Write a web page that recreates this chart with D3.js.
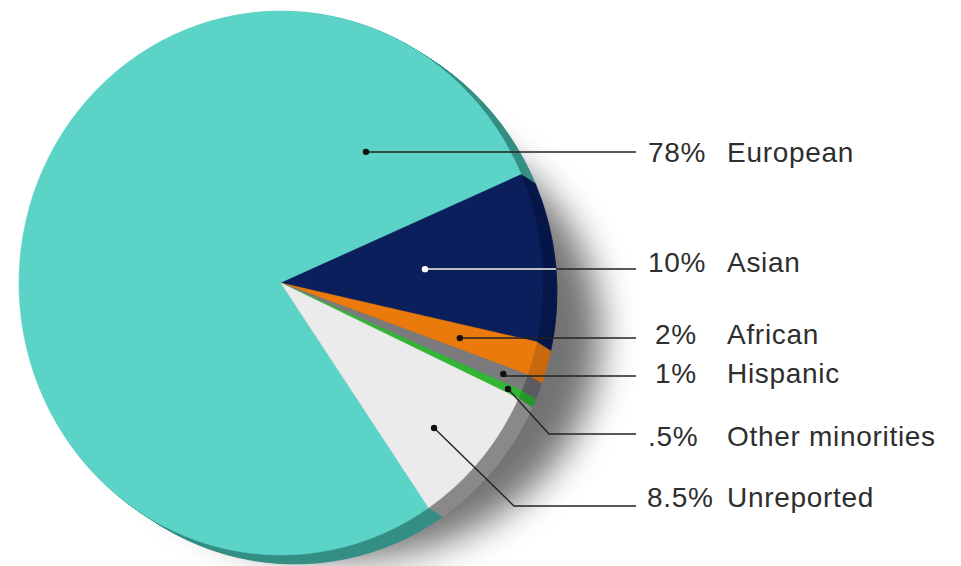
<!DOCTYPE html>
<html>
<head>
<meta charset="utf-8">
<script src="https://cdn.jsdelivr.net/npm/d3@7"></script>
<style>
  html, body { margin: 0; padding: 0; background: #ffffff; }
  svg { display: block; }
</style>
</head>
<body>
<svg id="chart" width="961" height="566"></svg>
<script>
// ---- data ----
const categories  = ["European", "Asian", "African", "Hispanic", "Other minorities", "Unreported"];
const shares      = [78, 10, 2, 1, 0.5, 8.5];
const shareLabels = ["78%", "10%", "2%", "1%", ".5%", "8.5%"];

// ---- styling ----
const faceColors = ["#5cd3c7", "#0b1f5c", "#e97a0b", "#7b7b7e", "#33b536", "#ebebeb"];
const sideColors = ["#348e85", "#07174a", "#c8690f", "#5d5d60", "#27982b", "#8a8a8a"];

// ---- callout layout (dot position inside slice, leader and label placement) ----
const dotFrac = [0.884, 0.506, 0.56, 0.5, 0.5, 0.565];   // fraction along slice angle
const dotRad  = [0.581, 0.552, 0.712, 0.912, 0.95, 0.791]; // fraction of radius
const lineY   = [152, 269, 338, 376, 434, 506];
const elbowX  = [null, null, null, null, 549, 514];
const lineEndX = 636;
const pctX    = [648, 648, 655, 655, 648, 647];
const nameX   = 727;
const baseY   = [162, 272, 344, 383, 446, 507];

// ---- disc geometry ----
const cx = 281, cy = 283, rx = 262, ry = 272;
const depthX = 14, depthY = 9, depthSteps = 14;
const R = 100;
const deg = Math.PI / 180;
const startAngle = 145.7 * deg;

const svg = d3.select("#chart");
const defs = svg.append("defs");

defs.append("filter")
  .attr("id", "softShadow")
  .attr("x", "-50%").attr("y", "-50%")
  .attr("width", "200%").attr("height", "200%")
  .append("feGaussianBlur").attr("stdDeviation", 18);

// soft cast shadow behind the disc
svg.append("ellipse")
  .attr("cx", cx + 64).attr("cy", cy + 52)
  .attr("rx", rx - 6).attr("ry", ry - 48)
  .attr("fill", "#000")
  .attr("opacity", 0.55)
  .attr("filter", "url(#softShadow)");

const pie = d3.pie()
  .value(d => d)
  .sort(null)
  .startAngle(startAngle)
  .endAngle(startAngle + 2 * Math.PI);

const arcs = pie(shares);
const arc = d3.arc().innerRadius(0).outerRadius(R);

const discTransform = k =>
  `translate(${cx + depthX * k / depthSteps},${cy + depthY * k / depthSteps}) scale(${rx / R},${ry / R})`;

// extruded rim: stacked copies from back to front
const rim = svg.append("g").attr("class", "rim");
for (let k = depthSteps; k >= 1; k--) {
  rim.append("g")
    .attr("transform", discTransform(k))
    .selectAll("path")
    .data(arcs)
    .join("path")
    .attr("d", arc)
    .attr("fill", (d, i) => sideColors[i])
    .attr("stroke", (d, i) => sideColors[i])
    .attr("stroke-width", 0.3);
}

// top face
svg.append("g")
  .attr("class", "face")
  .attr("transform", discTransform(0))
  .selectAll("path")
  .data(arcs)
  .join("path")
  .attr("d", arc)
  .attr("fill", (d, i) => faceColors[i])
  .attr("stroke", (d, i) => faceColors[i])
  .attr("stroke-width", 0.2);

// clip region covering the Asian slice (face and rim), for its light leader
const asianClip = defs.append("clipPath").attr("id", "asianClip");
for (let k = 0; k <= depthSteps; k++) {
  asianClip.append("path")
    .attr("transform", discTransform(k))
    .attr("d", arc(arcs[1]));
}

// callout anchor points
const dots = arcs.map((d, i) => {
  const a = d.startAngle + dotFrac[i] * (d.endAngle - d.startAngle);
  return [cx + rx * dotRad[i] * Math.sin(a), cy - ry * dotRad[i] * Math.cos(a)];
});

const leaderPts = dots.map((p, i) => {
  const pts = [p];
  if (elbowX[i] !== null) pts.push([elbowX[i], lineY[i]]);
  else pts.push([p[0] + 1, lineY[i]]);
  pts.push([lineEndX, lineY[i]]);
  return pts;
});

const line = d3.line();
const leaders = svg.append("g").attr("class", "leaders");

leaders.selectAll("path.leader")
  .data(leaderPts)
  .join("path")
  .attr("class", "leader")
  .attr("d", line)
  .attr("fill", "none")
  .attr("stroke", "#232323")
  .attr("stroke-width", 1.4);

// light leader over the dark Asian slice
leaders.append("path")
  .attr("d", line(leaderPts[1]))
  .attr("fill", "none")
  .attr("stroke", "#f4f4f4")
  .attr("stroke-width", 1.6)
  .attr("clip-path", "url(#asianClip)");

leaders.selectAll("circle")
  .data(dots)
  .join("circle")
  .attr("cx", d => d[0])
  .attr("cy", d => d[1])
  .attr("r", 3.2)
  .attr("fill", (d, i) => i === 1 ? "#ffffff" : "#111111");

// labels
const labels = svg.append("g")
  .attr("class", "labels")
  .attr("font-family", "'Liberation Sans', Arial, Helvetica, sans-serif")
  .attr("font-size", 28)
  .attr("letter-spacing", 0.7)
  .attr("fill", "#2e2e2e");

labels.selectAll("text.pct")
  .data(shareLabels)
  .join("text")
  .attr("class", "pct")
  .attr("x", (d, i) => pctX[i])
  .attr("y", (d, i) => baseY[i])
  .text(d => d);

labels.selectAll("text.name")
  .data(categories)
  .join("text")
  .attr("class", "name")
  .attr("x", nameX)
  .attr("y", (d, i) => baseY[i])
  .text(d => d);
</script>
</body>
</html>
